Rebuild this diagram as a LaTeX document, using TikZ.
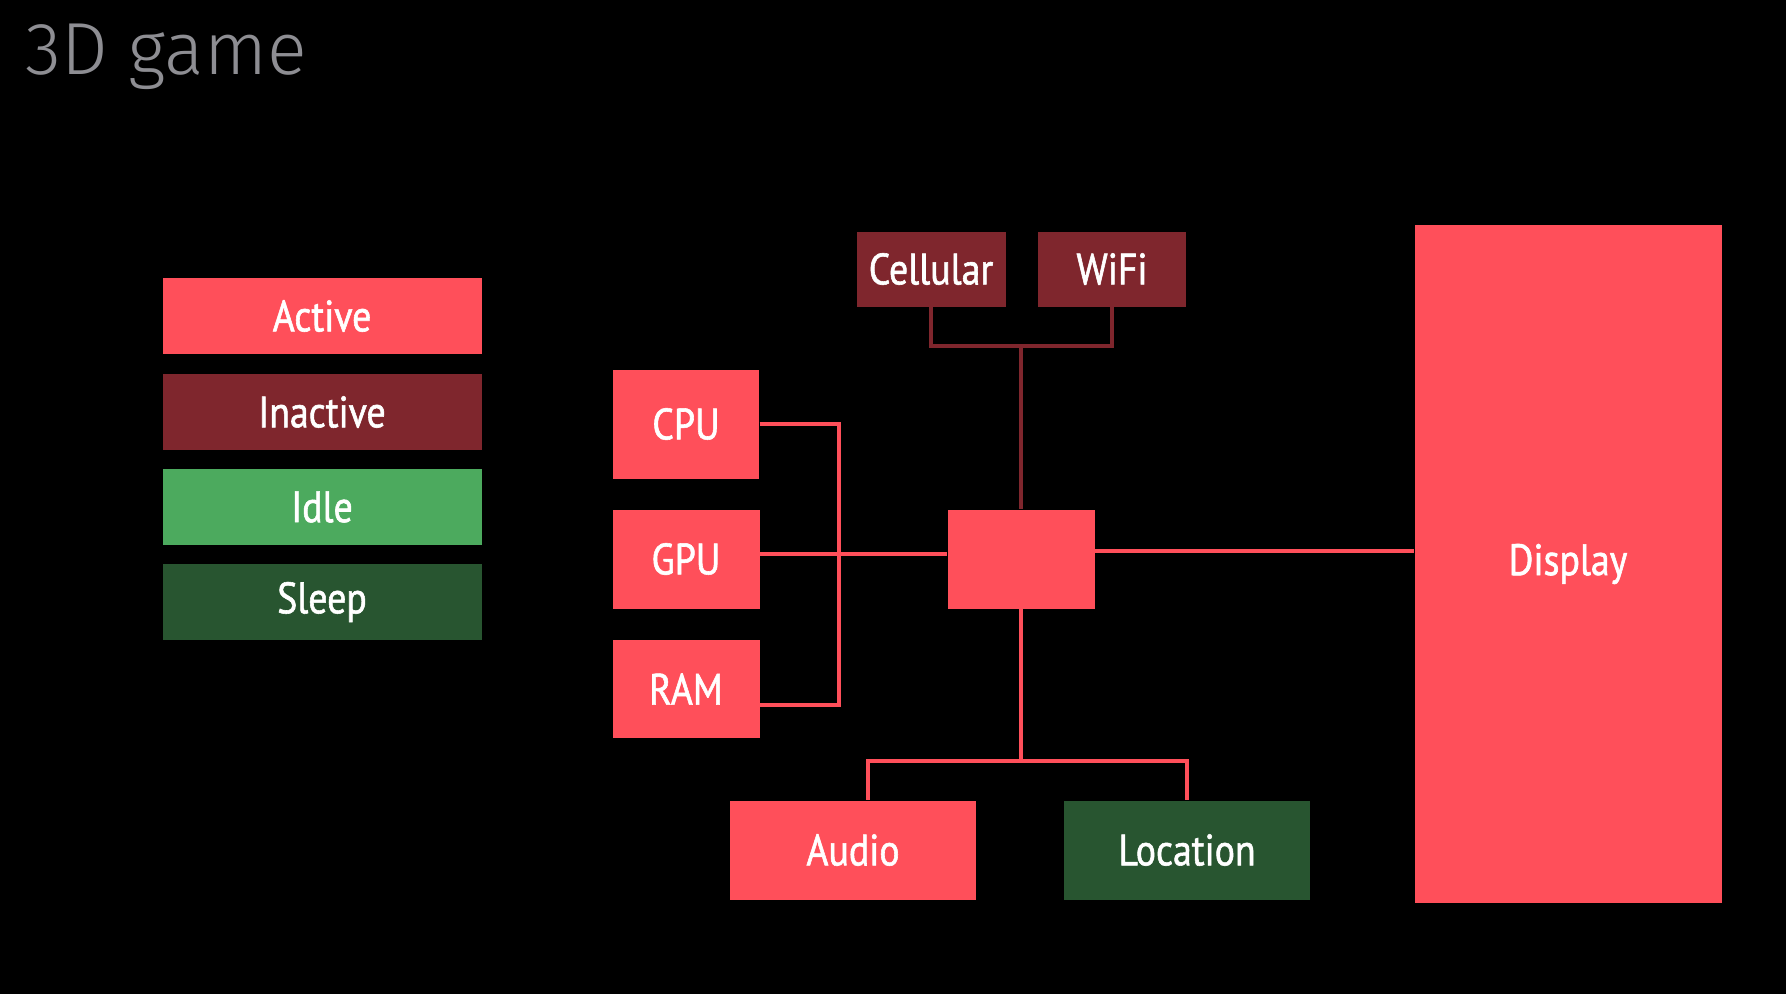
\documentclass[tikz,border=0pt]{standalone}
\usepackage{fontspec}
\setmainfont{PT Sans}[FakeStretch=0.86,FakeBold=1.3]
\newfontfamily\titlefont{Fira Sans Light}
\usetikzlibrary{calc}
\definecolor{active}{HTML}{FF4F5A}
\definecolor{inactive}{HTML}{7F262D}
\definecolor{idle}{HTML}{4CAA5E}
\definecolor{sleep}{HTML}{285530}
\definecolor{titlegray}{HTML}{8E8E93}
\tikzset{
	blk/.style={fill=#1, text=white, inner sep=0pt, font=\fontsize{12.5}{15}\selectfont},
	wire/.style={draw=active, line width=0.9pt},
	wireoff/.style={draw=inactive, line width=0.9pt}
}
\begin{document}
\begin{tikzpicture}[x=0.1mm,y=-0.1mm]
			\fill[black] (0,0) rectangle (1786,994);
			\node[anchor=base west, inner sep=0pt, text=titlegray, font=\titlefont\fontsize{21}{25}\selectfont] (title) at (25,74) {3D game};
			% legend
			\foreach \name/\col/\y in {Active/active/316,Inactive/inactive/412,Idle/idle/507,Sleep/sleep/602}
				\node[blk=\col, minimum width=3.19cm, minimum height=0.76cm] (key\col) at (322,\y) {\name};
			% components
			\node[blk=active, minimum width=1.46cm, minimum height=1.09cm] (cpu) at (686,424) {CPU};
			\node[blk=active, minimum width=1.47cm, minimum height=0.99cm] (gpu) at (686,559) {GPU};
			\node[blk=active, minimum width=1.47cm, minimum height=0.98cm] (ram) at (686,689) {RAM};
			\node[blk=active, minimum width=1.47cm, minimum height=0.99cm] (hub) at (1021,559) {};
			\node[blk=inactive, minimum width=1.49cm, minimum height=0.75cm] (cell) at (931,269) {Cellular};
			\node[blk=inactive, minimum width=1.48cm, minimum height=0.75cm] (wifi) at (1112,269) {WiFi};
			\node[blk=active, minimum width=2.46cm, minimum height=0.99cm] (audio) at (853,850) {Audio};
			\node[blk=sleep, minimum width=2.46cm, minimum height=0.99cm] (loc) at (1187,850) {Location};
			\node[blk=active, minimum width=3.07cm, minimum height=6.78cm] (disp) at (1568,564) {Display};
			% connectors
			\coordinate (busT) at (839,424);
			\coordinate (busB) at (839,705);
			\coordinate (join) at (1021,346);
			\coordinate (split) at (1021,761);
			\draw[wire] (cpu.east) -- (busT) -- (busB) -- (ram.east |- busB);
			\draw[wire] ([yshift=0.5mm]gpu.east) -- ([yshift=0.5mm]hub.west);
			\draw[wire] ([yshift=0.8mm]hub.east) -- ([yshift=0.8mm]hub.east -| disp.west);
			\draw[wireoff] (cell.south) |- (join) -| (wifi.south);
			\draw[wireoff] (join) -- (hub.north);
			\draw[wire] (hub.south) -- (split);
			\draw[wire] ([xshift=1.5mm]audio.north) |- (split) -| (loc.north);
	\end{tikzpicture}
\end{document}
